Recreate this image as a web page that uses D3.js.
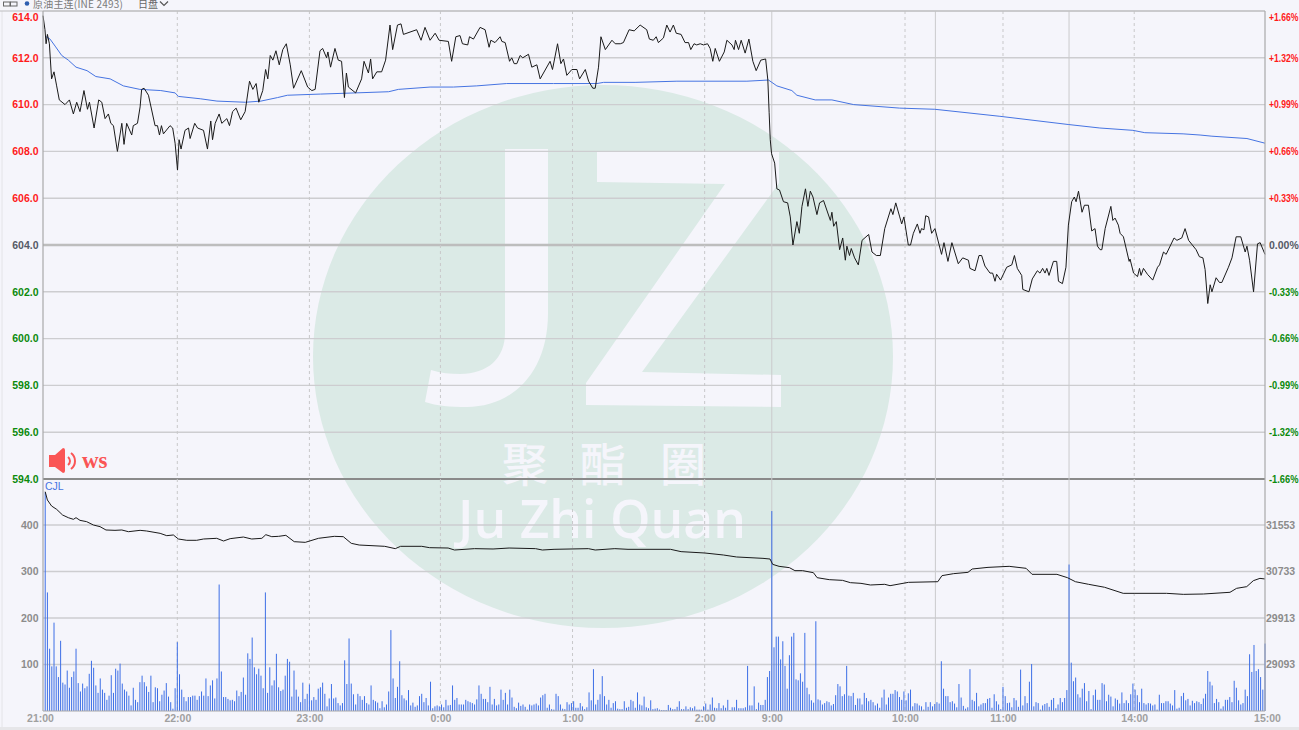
<!DOCTYPE html>
<html>
<head>
<meta charset="utf-8">
<script src="https://cdn.jsdelivr.net/npm/d3@7"></script>
<style>
html, body { margin: 0; padding: 0; background: #f5f5fb; overflow: hidden; }
svg { display: block; }
text { font-family: "Liberation Sans", Arial, sans-serif; }
</style>
</head>
<body>
<div id="chart"></div>
<script>
// bar number (minutes since the open) and value
var priceLine = [[0,613.8],[0.9,613.2],[1.4,612.6],[2,613],[2.9,612.6],[3.9,611.1],[5,611.4],[6.2,610.8],[7.4,610.2],[10,610],[12,610.2],[13.8,609.6],[15.3,610.1],[16.8,609.7],[18.6,610.6],[20.2,609.8],[21.1,610.1],[23.2,609],[25.3,610.2],[26.7,610.1],[28.2,609.4],[29.7,609.6],[30.8,609.2],[32,609.1],[33.8,608],[35.8,609.2],[36.8,608.3],[38,609.2],[40.3,608.7],[41,609.1],[42.9,609.2],[44.1,609.9],[44.8,610.65],[45.9,610.7],[47.9,610.4],[50.9,609.1],[52,609.1],[52.9,608.7],[53.8,609.1],[54.7,608.75],[57.7,609.1],[58.9,609],[60,608.35],[61.1,607.2],[61.8,608.5],[62.7,608.1],[64.5,608.9],[66.1,609],[66.8,608.55],[68.9,609.2],[70.2,609],[72.9,608.9],[74.7,608.1],[76.2,609.3],[77,608.5],[78.2,609.2],[80,609.6],[81.2,609.2],[83.5,609.4],[84.7,609.1],[86.1,609.7],[87.7,609.85],[89.8,609.35],[91.8,609.7],[93.8,611],[95.3,610.65],[96.8,610.9],[98,610.1],[99.8,610.6],[101.1,611.5],[102.1,611.1],[103.2,612.1],[104.4,611.9],[105.8,612.3],[107.3,611.7],[108.9,612.35],[110.5,612.6],[112.3,611.7],[113.8,610.7],[117.3,611.45],[120.2,610.75],[122.1,610.6],[123.6,610.65],[125.8,612.3],
[127,612.4],[128.8,612],[129.4,612.25],[130.6,611.6],[132.6,612.4],[134.1,611.9],[135.6,611.85],[136.9,610.3],[137.8,611.35],[138.7,610.75],[142,610.5],[144.7,611.1],[145.8,611.85],[147.8,611.35],[148.8,611.95],[149.7,611.1],[151.6,611.4],[153.8,611.4],[155.6,611.9],[157.6,613.4],[158.8,612.35],[161,613.4],[162.6,613.45],[163.7,613],[169.7,613.2],[171.7,612.75],[173.5,613.3],[175.8,612.75],[178.1,613.05],[179.9,612.75],[184.1,612.7],[185.6,611.85],[187.5,612.9],[189.4,612.95],[190.5,612.6],[192.9,612.55],[193.7,612.9],[195.5,612.8],[198.5,613.3],[200.8,613.2],[202.6,612.45],[203.4,612.75],[205.3,612.65],[207.6,612.9],[208.4,612.7],[209.9,612.65],[211.9,611.85],[212.9,612],[214,611.75],[215.2,611.75],[216.7,612.1],[217.9,612],[220.5,612.15],[222,611.6],[224.3,611.7],[225.8,611.1],[230.3,611.85],[231.4,611.5],[233.7,612.6],[235.2,611.75],[236.4,611.95],[237.9,611.25],[240.2,611.5],[242.5,611.5],[243.7,611.1],[246.3,611.5],[247.8,611],[249.7,610.7],[250.8,610.7],[252.3,611.6],[253.4,612.9],[255.4,612.35],[258.4,612.75],[259.9,612.6],[262.2,612.6],
[263.6,612.65],[266.2,613.2],[268.5,613.15],[271.2,613.4],[274.2,613.2],[275.4,612.8],[277.2,612.75],[278.5,612.9],[279.5,612.65],[281.8,612.85],[283.3,613.4],[284.8,613.1],[286.3,613.4],[287.6,613.05],[289.8,613],[291.6,612.65],[293.2,612.65],[294.2,612.35],[295.7,612.6],[296.9,612.55],[298.5,612.6],[300,612.55],[301.8,612.6],[303,612.4],[304.2,611.85],[305.3,612.4],[307.2,611.85],[309.4,612.25],[310.6,612.75],[312.9,612.55],[313.9,612.35],[314.5,612.75],[315.9,612.35],[317.1,612.75],[318.9,612.2],[320.6,612.8],[322.4,611.85],[323.9,611.45],[326,611.9],[328.2,611.95],[329.2,611.05],[329.8,609.65],[330.3,608.5],[330.9,607.9],[332.3,607.5],[333.3,606.4],[334.5,606.35],[336.3,605.85],[338.2,605.8],[339.4,605.2],[340.6,604],[342.4,605],[343.5,604.5],[344.7,605.65],[346.3,606.4],[347.4,605.65],[348.5,606.3],[349.7,606.05],[351.5,605.3],[352.7,605.8],[354.5,605.9],[357.6,605.05],[358.3,605.4],[359.1,604.8],[360.3,605],[361.8,603.8],[363.2,604.3],[364.4,603.35],[365.1,603.95],[366.3,603.55],[367.1,603.85],[368.6,603.45],[370.3,603.15],[372,604.2],[375,604.45],[376.5,603.7],[378.5,603.55],[380.3,603.55],[382.3,604.7],[385.1,605.55],[386,605.3],[387.3,605.8],[389.1,605.2],
[390,604.9],[391,605.2],[393,604],[394,604],[395.3,604.5],[397.1,604.9],[398.3,604.5],[399,604.7],[400.1,604.65],[400.9,605.25],[402.2,605.2],[403.6,604.5],[405.1,604.7],[408.1,603.6],[409.2,604.1],[411,603.3],[412.8,604.1],[415.7,603.2],[417.7,603.45],[420.3,603.35],[421,603],[423.3,602.9],[425.1,603.55],[426.3,603.55],[427.8,603.1],[430.1,602.8],[431.3,602.8],[432.4,602.45],[433.1,602.75],[434.9,602.5],[437.7,603.05],[440,603.15],[441.2,603.55],[442.5,603],[444.5,602.7],[445,602.1],[447.8,602],[449.3,602.55],[451.6,602.9],[452.8,602.8],[454,603],[455.1,602.8],[455.9,603],[456.9,602.7],[458.9,603.3],[460.4,603.3],[461.2,602.45],[463,602.35],[464.6,603.05],[465.7,604.85],[467.2,605.85],[468.4,606.05],[469.2,605.85],[470.3,606.3],[471.9,605.4],[473,605.7],[474.8,605.7],[476.3,604.6],[477.8,604.7],[478.9,603.95],[480.1,603.8],[480.9,603.8],[482.4,604.7],[485,605.65],[485.9,605.05],[486.9,605.15],[488.4,604.85],[489.2,604.5],[490.7,604.35],[493.3,603.3],[493.7,603.4],[495.3,602.8],[497.1,602.65],[498,603],[498.7,602.7],[499.8,603],[501.6,602.75],[504,602.5],[506.2,603.05],[507.1,603.15],[508.9,603.7],[510.1,603.6],[513.7,604.3],[515,604.2],[517.2,604.3],[518.7,604.7],[520.3,604.2],[523.7,603.8],[525.2,603.5],[526.8,603.45],[527.8,602.95],[529,601.5],[530.1,602.3],[530.9,602],[532.8,602.6],[534.3,602.4],[535.4,602.4],[538.4,603.05],[540,603.45],[541.9,604.35],[544,604.35],[546,603.7],[546.8,603.95],[548,603.35],[549.8,602],[551.6,604.05],[552.8,604.1],[555,603.6]];

var avgLine = [[1.4,612.9],[3.2,612.8],[5.5,612.5],[8.5,612.1],[11.5,611.9],[15,611.6],[20,611.45],[24,611.2],[30.5,611.1],[36.5,610.8],[44,610.65],[53.5,610.6],[60,610.5],[61.5,610.35],[71.4,610.25],[79,610.15],[92,610.1],[99,610.15],[106.5,610.3],[111,610.4],[126,610.45],[142,610.5],[157,610.55],[161.4,610.65],[175.8,610.75],[186.4,610.75],[197,610.8],[210.6,610.9],[231.9,610.9],[251.6,610.9],[254.6,610.95],[268.9,610.95],[287.9,611],[319.7,611],[329.5,611.05],[333.3,610.8],[340.1,610.6],[342.4,610.4],[350.7,610.2],[358.3,610.2],[368.2,610],[389.1,609.85],[405,609.8],[434.6,609.5],[465.6,609.15],[480,609],[495,608.9],[500.4,608.8],[517.8,608.75],[525.5,608.7],[530.9,608.65],[546.8,608.55],[555,608.35]];

var oiLine = [[1,32140],[2,31994],[3.9,31888],[6.2,31829],[8.9,31729],[11.5,31682],[13.8,31653],[15,31682],[16.8,31635],[19.8,31612],[22.9,31553],[25.9,31524],[28.6,31465],[32.7,31459],[35.8,31465],[38.8,31435],[44.1,31459],[47.1,31447],[53.2,31406],[56.2,31365],[59.2,31377],[61.5,31306],[65.3,31283],[69.8,31283],[72.9,31306],[78.9,31318],[82,31271],[85,31312],[91,31341],[94.8,31306],[99.4,31318],[101.2,31382],[103.9,31347],[107,31353],[110.3,31371],[114.1,31259],[119.1,31247],[125.1,31318],[132.3,31353],[136.4,31347],[140,31230],[143.6,31200],[155.2,31177],[160,31136],[162.4,31177],[172,31177],[175.6,31153],[184,31147],[186.9,31112],[196,31136],[204.4,31130],[211.7,31147],[223.7,31136],[226.8,31112],[232.1,31124],[247.7,31136],[250.8,31112],[259.7,31136],[265.7,31124],[285,31124],[289.8,31083],[300.6,31059],[309,31024],[315,30989],[327,30965],[330.2,30953],[331.4,30859],[334.3,30824],[339,30801],[341.5,30748],[345,30748],[349.9,30712],[351.6,30624],[357.1,30589],[363.1,30577],[366.7,30536],[371.5,30524],[375.8,30495],[382.3,30507],[384.7,30483],[393.1,30542],[406.4,30553],[408.3,30660],[413.6,30695],[420.1,30718],[422,30777],[429.2,30806],[438.8,30824],[446.5,30789],[449.2,30683],[460.5,30683],[465.3,30624],[468.9,30553],[474.9,30507],[482.1,30455],[490.6,30348],[495.9,30348],[510.3,30348],[517.9,30330],[527,30336],[539.1,30366],[542.1,30436],[546.7,30466],[549.7,30571],[552.7,30612],[555,30601]];

// volume per minute, night session then the two day parts
var volNight = [470,255,134,96,190,96,73,151,61,57,87,50,73,85,134,60,42,59,49,53,80,108,93,55,39,70,46,39,24,33,77,39,91,87,102,59,46,42,33,12,50,24,19,62,76,62,53,41,76,19,51,49,21,35,44,60,31,19,5,49,148,79,46,30,21,30,30,33,33,24,32,42,33,70,32,55,66,27,70,272,85,30,30,26,23,24,21,44,32,41,72,35,124,112,158,94,79,91,76,49,255,39,94,55,66,123,51,43,46,76,112,106,31,87,46,31,19,61,26,37,57,23,30,24,48,51,
    61,37,10,27,58,27,29,17,12,17,109,58,156,59,36,14,37,32,24,32,17,14,55,24,21,18,6,21,8,14,42,174,70,28,52,107,34,27,23,45,12,18,9,12,32,37,19,28,12,63,6,10,12,10,14,8,24,12,13,55,24,28,14,14,14,24,21,19,17,14,25,55,37,26,26,19,52,14,26,12,14,46,24,39,14,46,29,9,6,18,11,14,9,3,14,12,14,16,12,29,34,37,7,14,4,3,37,32,14,5,4,19,14,17,21,7,7,17,10,4,8,40,23,90,14,24,36,75,32,14,24,7,17,21,5,4,4,21,7,9,24,21,7,40,14,12,31,8,6,23,4,5,6,3,2,2,2,13,7,4,4,9,21,4,4,10,4,8,6,10,3,3,3,10,16,3,14,29,7,6,17,6,12,7,24,2,8,8,24,6,6,6,8,97,12,12,53,4,18,13,13,24,73,86];
var volMorning = [430,137,160,160,111,150,97,48,120,160,168,68,66,81,63,168,50,36,23,18,193,25,23,14,17,21,19,12,15,34,58,53,32,36,97,33,32,39,13,27,27,14,39,28,21,24,19,12,16,7,29,46,14,29,37,37,45,42,30,24,42,23,38,46,10,17,16,12,10,3,19,9,19,10,15,19,16,107,48,32,32,19,21,16,8,58,29,11,5,8,90,24,21,39,10,14,17,17,26,28,7,36,21,14,4,52,32,17,18,8,28,23,9,89,12,32,17,63,101,10,19,17,3,12,15,17,9,24,28,6,14,28,19,28,45];
var volAfternoon = [315,104,64,72,36,29,48,60,21,43,4,34,46,24,24,60,57,21,35,31,10,27,24,16,40,17,23,17,36,59,46,34,19,48,17,14,17,16,12,14,3,35,17,17,21,21,16,12,45,5,7,32,39,23,26,12,22,17,21,19,15,27,37,86,63,55,17,26,19,5,10,24,24,30,19,65,50,23,14,17,46,32,122,84,142,86,90,73,46,145];

var priceTicks = [614,612,610,608,606,604,602,600,598,596,594];
var pctLabels = ['+1.66%','+1.32%','+0.99%','+0.66%','+0.33%','0.00%','-0.33%','-0.66%','-0.99%','-1.32%','-1.66%'];
var volTicks = [400,300,200,100];
var oiTicks = [31553,30733,29913,29093];
var timeBars = [0,61,121,180.5,240.5,300.5,331,391.5,436,495.6,555];
var timeLabels = ['21:00','22:00','23:00','0:00','1:00','2:00','9:00','10:00','11:00','14:00','15:00'];
var sessionBars = [331,405.3,466];

const width = 1299;
const height = 730;
const plotLeft = 43;
const plotRight = 1265;
const plotTop = 11;
const plotMid = 479;
const plotBottom = 711;
const baseLine = 604;

const svg = d3.select('#chart').append('svg')
    .attr('width', width)
    .attr('height', height);

var xScale = d3.scaleLinear().domain([0,555]).range([plotLeft,plotRight]);
var yPrice = d3.scaleLinear().domain([594,614]).range([plotMid,plotTop]);
var yVol = d3.scaleLinear().domain([0,500]).range([plotBottom,478.5]);
var yOi = d3.scaleLinear().domain([28273,32373]).range([plotBottom,478.5]);

svg.append('rect').attr('width', width).attr('height', height).attr('fill', '#f5f5fb');
svg.append('rect').attr('y', 727).attr('width', width).attr('height', 3).attr('fill', '#e6e6e9');
svg.append('line').attr('x1', 2).attr('x2', 2).attr('y1', plotTop).attr('y2', 727).attr('stroke', '#e4e4e8');

// watermark sits behind everything
var logo = svg.append('g').attr('fill', '#f5f5fb');
logo.append('ellipse').attr('cx', 603).attr('cy', 356.5).attr('rx', 290).attr('ry', 271.5).attr('fill', '#dbeae6');
logo.append('path').attr('d', 'M505,149 L548,149 L548,313 C548,375 510,407 467,407 C450,407 437,406 425,402 L431,370 C441,373 450,374 460,374 C488,374 505,358 505,333 Z');
logo.append('path').attr('d', 'M597,151 L779,151 L779,183 L642,372 L781,375 L781,407 L586,405 L586,383 L725,184 L597,182 Z');
logo.selectAll('text.cn').data(['聚','酯','圈']).join('text')
    .attr('class', 'cn')
    .attr('x', (d,i) => [525,603,683][i])
    .attr('y', 481)
    .attr('text-anchor', 'middle')
    .style('font-family', '"Noto Sans CJK SC"')
    .style('font-weight', 500)
    .style('font-size', '46px')
    .text(d => d);
logo.append('text')
    .attr('x', 458)
    .attr('y', 538)
    .attr('textLength', 288)
    .attr('lengthAdjust', 'spacingAndGlyphs')
    .style('font-family', '"Open Sans"')
    .style('font-weight', 600)
    .style('font-size', '52px')
    .text('Ju Zhi Quan');

// grids
svg.append('g').selectAll('line').data(priceTicks).join('line')
    .attr('x1', plotLeft).attr('x2', plotRight)
    .attr('y1', d => yPrice(d)).attr('y2', d => yPrice(d))
    .attr('stroke', d => d == 594 ? '#8a8a8a' : (d == 604 ? '#bdbdbd' : '#cdcdd0'))
    .attr('stroke-width', d => d == 594 ? 2 : (d == 604 ? 2.6 : 1.4));
svg.append('g').selectAll('line').data(volTicks).join('line')
    .attr('x1', plotLeft).attr('x2', plotRight)
    .attr('y1', d => yVol(d)).attr('y2', d => yVol(d))
    .attr('stroke', '#cdcdd0')
    .attr('stroke-width', 1.4);
svg.append('g').selectAll('line').data(timeBars.slice(1,-1).filter(d => d != 331)).join('line')
    .attr('x1', d => xScale(d)).attr('x2', d => xScale(d))
    .attr('y1', plotTop).attr('y2', plotBottom)
    .attr('stroke', '#c8c8ca')
    .attr('stroke-dasharray', '3,3');
svg.append('g').selectAll('line').data(sessionBars).join('line')
    .attr('x1', d => xScale(d)).attr('x2', d => xScale(d))
    .attr('y1', plotTop).attr('y2', plotBottom)
    .attr('stroke', '#cacacc')
    .attr('stroke-width', 1);

// volume bars
var volume = volNight.concat(volMorning, volAfternoon);
svg.append('g').selectAll('rect').data(volume).join('rect')
    .attr('x', (d,i) => xScale(i+1) - 0.5)
    .attr('y', d => yVol(d))
    .attr('width', 1)
    .attr('height', d => plotBottom - yVol(d))
    .attr('fill', '#3d6fe6');

var linePrice = d3.line().x(d => xScale(d[0])).y(d => yPrice(d[1]));
var lineOi = d3.line().x(d => xScale(d[0])).y(d => yOi(d[1]));

svg.append('path').datum(avgLine).attr('d', linePrice)
    .attr('fill', 'none').attr('stroke', '#4674e2').attr('stroke-width', 1);
svg.append('path').datum(priceLine).attr('d', linePrice)
    .attr('fill', 'none').attr('stroke', '#1a1a1a').attr('stroke-width', 1);
svg.append('path').datum(oiLine).attr('d', lineOi)
    .attr('fill', 'none').attr('stroke', '#1a1a1a').attr('stroke-width', 1);

// frame
svg.append('line').attr('x1', 0).attr('x2', plotRight).attr('y1', plotTop).attr('y2', plotTop).attr('stroke', '#bdbdbf').attr('stroke-width', 1.2);
svg.append('line').attr('x1', plotLeft).attr('x2', plotLeft).attr('y1', plotTop).attr('y2', plotBottom).attr('stroke', '#a8a8aa').attr('stroke-width', 1.2);
svg.append('line').attr('x1', plotRight).attr('x2', plotRight).attr('y1', plotTop).attr('y2', plotBottom).attr('stroke', '#a8a8aa').attr('stroke-width', 1.2);
svg.append('line').attr('x1', plotLeft).attr('x2', plotRight).attr('y1', plotBottom).attr('y2', plotBottom).attr('stroke', '#a8a8aa').attr('stroke-width', 1.2);

function styleAxis(g, size, weight){
    g.select('.domain').remove();
    g.selectAll('.tick line').remove();
    g.selectAll('text')
        .style('font-family', '"Liberation Sans"')
        .style('font-size', size)
        .style('font-weight', weight);
}

var priceColor = function(d){
    if (d > baseLine) return '#ff1a1a';
    if (d < baseLine) return '#0b8a0b';
    return '#555a66';
};

// left price axis
var axisPrice = svg.append('g')
    .attr('transform', 'translate(38.5,0)')
    .call(d3.axisLeft(yPrice).tickValues(priceTicks).tickFormat(d3.format('.1f')).tickSize(0).tickPadding(0));
styleAxis(axisPrice, '10.5px', 'bold');
axisPrice.selectAll('text').attr('fill', d => priceColor(d)).attr('y', d => d == 614 ? 6 : 0);

// left volume axis
var axisVol = svg.append('g')
    .attr('transform', 'translate(38.5,0)')
    .call(d3.axisLeft(yVol).tickValues(volTicks).tickSize(0).tickPadding(0));
styleAxis(axisVol, '10.5px', 'bold');
axisVol.selectAll('text').attr('fill', '#8c8c8c');

// right percent axis, squeezed a little so the % stays inside the window
var axisPct = svg.append('g')
    .attr('transform', 'translate(1269,0)')
    .call(d3.axisRight(yPrice).tickValues(priceTicks).tickFormat((d,i) => pctLabels[i]).tickSize(0).tickPadding(0));
styleAxis(axisPct, '10.5px', 'bold');
axisPct.selectAll('text').attr('fill', d => priceColor(d)).attr('y', d => d == 614 ? 6 : 0);
axisPct.selectAll('text').filter(d => d != baseLine)
    .attr('textLength', 29.5)
    .attr('lengthAdjust', 'spacingAndGlyphs');

// right open interest axis
var axisOi = svg.append('g')
    .attr('transform', 'translate(1266,0)')
    .call(d3.axisRight(yOi).tickValues(oiTicks).tickFormat(d3.format('d')).tickSize(0).tickPadding(0));
styleAxis(axisOi, '10.5px', 'bold');
axisOi.selectAll('text').attr('fill', '#8c8c8c');

// time axis
var axisTime = svg.append('g')
    .attr('transform', 'translate(0,' + plotBottom + ')')
    .call(d3.axisBottom(xScale).tickValues(timeBars).tickFormat((d,i) => timeLabels[i]).tickSize(0).tickPadding(0));
styleAxis(axisTime, '10.5px', 'bold');
axisTime.selectAll('text').attr('fill', '#a0a0a0').attr('y', 4)
    .attr('dx', d => d == 0 ? -3 : (d == 555 ? 2 : 0));

svg.append('text')
    .attr('x', 45)
    .attr('y', 490)
    .attr('fill', '#4674e2')
    .style('font-size', '10.5px')
    .text('CJL');

// top strip
var head = svg.append('g');
head.append('rect').attr('x', 3.5).attr('y', 2).attr('width', 6.5).attr('height', 4).attr('fill', 'none').attr('stroke', '#666');
head.append('rect').attr('x', 10.5).attr('y', 2).attr('width', 6.5).attr('height', 4).attr('fill', 'none').attr('stroke', '#666');
head.append('circle').attr('cx', 27).attr('cy', 3.5).attr('r', 2.3).attr('fill', '#2f5fb0');
head.append('text').attr('x', 33).attr('y', 8).attr('fill', '#7a7a7a')
    .attr('textLength', 90)
    .style('font-family', '"Noto Sans CJK SC"').style('font-size', '10px').text('原油主连(INE 2493)');
head.append('text').attr('x', 138).attr('y', 8).attr('fill', '#666')
    .style('font-family', '"Noto Sans CJK SC"').style('font-size', '10px').text('日盘');
head.append('path').attr('d', 'M160,1.5 L164,5.5 L168,1.5').attr('fill', 'none').attr('stroke', '#555').attr('stroke-width', 1.2);

// ws badge
var badge = svg.append('g').attr('fill', '#fa5555');
badge.append('path').attr('d', 'M49,455 L55,455 L63,448 Q65,448 65,450 L65,471 Q65,473 63,473 L55,467 L49,467 Q49,461 49,455 Z');
badge.append('path').attr('d', 'M68,457 A5,5 0 0 1 68,465 M71,453 A10,10 0 0 1 71,469').attr('fill', 'none').attr('stroke', '#fa5555').attr('stroke-width', 2);
badge.append('text').attr('x', 82).attr('y', 468)
    .style('font-family', '"Liberation Serif"').style('font-weight', 'bold').style('font-size', '23px').text('ws');
</script>
</body>
</html>
